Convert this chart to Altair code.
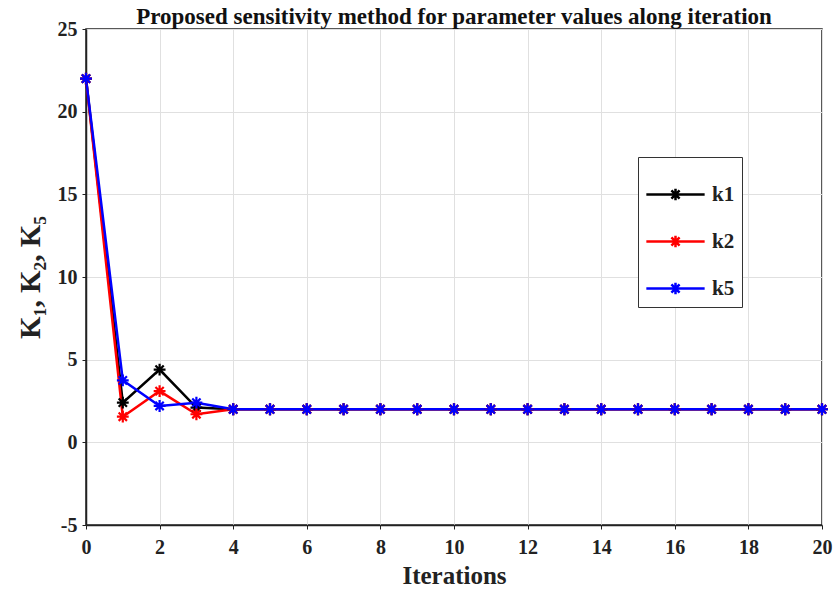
import altair as alt
import pandas as pd

iterations = list(range(0, 21))
k1 = [22, 2.4, 4.4, 2.1] + [2.0] * 17
k2 = [22, 1.55, 3.1, 1.7] + [2.0] * 17
k5 = [22, 3.75, 2.2, 2.4] + [2.0] * 17
series_names = ["k1", "k2", "k5"]
series_colors = ["#000000", "#ff0000", "#0000ff"]
x_ticks = list(range(0, 21, 2))
y_ticks = list(range(-5, 26, 5))

rows = []
for name, vals in zip(series_names, [k1, k2, k5]):
    for it, v in zip(iterations, vals):
        rows.append({"Iteration": it, "value": v, "series": name, "order": series_names.index(name)})
df = pd.DataFrame(rows)

FONT = "Liberation Serif"
asterisk = "M-1,0L1,0M0,-1L0,1M-0.7,-0.7L0.7,0.7M-0.7,0.7L0.7,-0.7"
legend_sym = ("M-1,0L1,0M-0.2,0L0.2,0M0,-0.2L0,0.2"
              "M-0.14,-0.14L0.14,0.14M-0.14,0.14L0.14,-0.14")

legend = alt.Legend(
    title=None, orient="none", legendX=552, legendY=128,
    symbolType=legend_sym, symbolSize=3400, symbolStrokeWidth=2.5,
    labelFont=FONT, labelFontSize=21, labelFontWeight="bold", labelColor="#222222",
    strokeColor="#333333", fillColor="white", padding=7, rowPadding=5,
    labelOffset=6,
)

color = alt.Color("series:N", scale=alt.Scale(domain=series_names, range=series_colors), legend=legend)

x = alt.X("Iteration:Q", scale=alt.Scale(domain=[0, 20], nice=False),
          axis=alt.Axis(values=x_ticks, title="Iterations", labelExpr="toString(datum.value)",
                        labelFlush=False, labelOverlap=False))
y = alt.Y("value:Q", scale=alt.Scale(domain=[-5, 25], nice=False),
          axis=alt.Axis(values=y_ticks, title="K₁, K₂, K₅", labelExpr="toString(datum.value)",
                        labelFlush=False, labelOverlap=False))

lines = alt.Chart(df).mark_line(strokeWidth=2.5).encode(
    x=x, y=y, color=color, detail="series:N", order="Iteration:Q")
points = alt.Chart(df).mark_point(shape=asterisk, size=140, strokeWidth=2.2, filled=False, opacity=1).encode(
    x=x, y=y, color=color, order="order:Q")

chart = (lines + points).properties(
    width=736, height=496,
    title=alt.Title("Proposed sensitivity method for parameter values along iteration",
                    font=FONT, fontSize=23, fontWeight="bold", color="#111111", offset=0, dy=10),
    autosize=alt.AutoSizeParams(type="none"),
    padding={"left": 86, "top": 29, "right": 11, "bottom": 69},
).configure_view(stroke="#222222", strokeWidth=1.5).configure_axis(
    labelFont=FONT, labelFontSize=20, labelFontWeight="bold", labelColor="#222222",
    titleFont=FONT, titleFontWeight="bold", titleColor="#222222",
    gridColor="#e0e0e0", gridWidth=1, domainColor="#222222", domainWidth=1.5,
    tickColor="#222222", tickSize=4, labelPadding=5,
).configure_axisX(titleFontSize=25, titlePadding=6, labelPadding=8).configure_axisY(titleFontSize=29, titlePadding=12)

chart.save("out.html", embed_options={"renderer": "svg", "actions": False})
